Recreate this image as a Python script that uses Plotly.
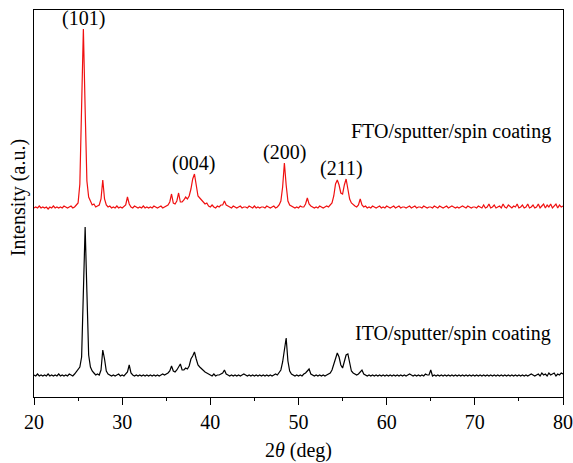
import plotly.graph_objects as go

# 2-theta scan grid (deg), step 0.2 from 20 to 80
two_theta = [round(20 + 0.2 * i, 1) for i in range(301)]

# FTO/sputter/spin coating (relative intensity, a.u.), groups of 1 deg
fto = [
    21, 22, 21, 23, 21,   22, 21, 22, 20, 22,   21, 23, 21, 22, 21,   22, 21, 23, 22, 21,
    22, 23, 21, 22, 24,   26, 45, 115, 200, 120,  48, 32, 27, 24, 25,  22, 23, 24, 30, 49,
    30, 24, 22, 23, 21,   22, 21, 23, 21, 22,   21, 23, 24, 32, 25,   22, 21, 23, 22, 21,
    22, 21, 23, 21, 22,   21, 22, 21, 23, 22,   21, 22, 23, 21, 22,   23, 24, 27, 35, 26,
    25, 28, 36, 27, 27,   29, 32, 30, 33, 40,   50, 55, 42, 33, 31,   29, 27, 25, 26, 23,
    22, 24, 22, 21, 23,   22, 24, 24, 28, 24,   23, 22, 21, 23, 22,   21, 22, 23, 21, 22,
    22, 21, 23, 22, 21,   23, 21, 22, 21, 22,   22, 21, 23, 22, 21,   22, 23, 21, 22, 24,
    28, 42, 66, 44, 28,   24, 23, 22, 21, 22,   21, 23, 22, 22, 25,   31, 25, 23, 22, 21,
    22, 21, 23, 22, 21,   22, 23, 22, 24, 26,   33, 45, 49, 44, 36,   35, 44, 50, 40, 30,
    26, 24, 23, 22, 24,   30, 24, 22, 23, 21,   22, 21, 23, 22, 21,   22, 23, 21, 22, 21,
    23, 22, 21, 22, 23,   21, 22, 23, 21, 22,   22, 21, 22, 23, 21,   22, 23, 21, 22, 22,
    21, 23, 22, 21, 22,   22, 21, 23, 22, 21,   23, 22, 21, 22, 23,   21, 22, 23, 22, 21,
    22, 21, 22, 23, 22,   21, 23, 22, 21, 22,   22, 21, 23, 22, 21,   24, 21, 22, 25, 21,
    22, 24, 21, 22, 23,   21, 25, 22, 21, 24,   22, 21, 23, 22, 25,   21, 22, 24, 21, 22,
    25, 21, 22, 24, 21,   22, 25, 21, 23, 25,   21, 24, 22, 25, 21,   23, 25, 21, 24, 22,
    23,
]

# ITO/sputter/spin coating (relative intensity, a.u.)
ito = [
    22, 21, 23, 21, 22,   21, 22, 21, 23, 21,   22, 21, 22, 21, 23,   21, 22, 21, 22, 21,
    23, 22, 21, 23, 25,   27, 30, 40, 110, 170,  105, 42, 30, 26, 24,  22, 23, 22, 27, 47,
    38, 26, 23, 22, 21,   22, 21, 22, 23, 21,   22, 21, 23, 25, 32,   24, 22, 21, 22, 21,
    22, 21, 22, 21, 22,   21, 22, 21, 22, 21,   22, 21, 22, 23, 22,   23, 24, 26, 31, 26,
    25, 27, 30, 33, 27,   27, 29, 28, 31, 38,   41, 45, 38, 32, 30,   28, 26, 25, 24, 23,
    22, 21, 23, 21, 22,   22, 23, 24, 27, 23,   22, 21, 22, 21, 22,   21, 22, 21, 22, 23,
    22, 21, 22, 21, 22,   21, 22, 21, 22, 21,   22, 21, 22, 21, 22,   21, 22, 23, 22, 24,
    27, 35, 50, 59, 36,   26, 23, 22, 21, 22,   21, 22, 21, 23, 24,   26, 28, 23, 22, 21,
    22, 21, 22, 21, 22,   21, 22, 23, 24, 27,   33, 40, 44, 40, 32,   29, 36, 42, 43, 33,
    26, 24, 23, 22, 23,   25, 27, 23, 22, 21,   22, 21, 22, 21, 22,   21, 22, 21, 22, 21,
    22, 21, 22, 21, 22,   21, 22, 21, 22, 21,   22, 21, 22, 23, 22,   21, 22, 21, 22, 21,
    22, 21, 23, 22, 22,   27, 21, 22, 21, 22,   21, 22, 21, 22, 21,   22, 21, 22, 21, 22,
    21, 22, 21, 22, 21,   22, 21, 22, 21, 22,   21, 22, 21, 22, 21,   22, 21, 22, 21, 22,
    21, 22, 21, 22, 21,   22, 21, 22, 21, 22,   21, 22, 21, 22, 21,   22, 21, 22, 21, 22,
    21, 22, 23, 22, 21,   22, 23, 21, 24, 22,   23, 21, 24, 22, 23,   24, 21, 23, 22, 24,
    23,
]

fto_offset = 168  # vertical stacking offset of the upper pattern

peak_labels = ["(101)", "(004)", "(200)", "(211)"]
peak_pos = [25.6, 38.1, 48.4, 54.9]

sample_labels = ["FTO/sputter/spin coating", "ITO/sputter/spin coating"]

FONT = "Liberation Serif"
TXT = 20

fto_plot = [v + fto_offset for v in fto]

fig = go.Figure()
fig.add_trace(go.Scatter(x=two_theta, y=ito, mode="lines",
                         line=dict(color="#000000", width=1.2), showlegend=False))
fig.add_trace(go.Scatter(x=two_theta, y=fto_plot, mode="lines",
                         line=dict(color="#f01010", width=1.2), showlegend=False))

annotations = []
for lab, pos in zip(peak_labels, peak_pos):
    top = max(v for t, v in zip(two_theta, fto_plot) if abs(t - pos) <= 0.6)
    annotations.append(dict(x=pos, y=top, xref="x", yref="y", text=lab,
                            showarrow=False, yanchor="middle", yshift=11,
                            font=dict(family=FONT, size=TXT, color="black")))

annotations.append(dict(x=78.9, y=fto_offset + 98, xref="x", yref="y",
                        text=sample_labels[0], showarrow=False,
                        xanchor="right", yanchor="middle",
                        font=dict(family=FONT, size=TXT, color="black")))
annotations.append(dict(x=78.9, y=64, xref="x", yref="y",
                        text=sample_labels[1], showarrow=False,
                        xanchor="right", yanchor="middle",
                        font=dict(family=FONT, size=TXT, color="black")))
annotations.append(dict(x=-0.030, y=(397 - 198) / 387, xref="paper", yref="paper",
                        text="Intensity (a.u.)", textangle=-90, showarrow=False,
                        xanchor="center", yanchor="middle",
                        font=dict(family=FONT, size=TXT, color="black")))

fig.update_layout(
    width=573, height=463,
    margin=dict(l=34, r=10, t=10, b=66, autoexpand=False),
    paper_bgcolor="white", plot_bgcolor="white",
    font=dict(family=FONT, size=TXT, color="black"),
    annotations=annotations,
    xaxis=dict(range=[20, 80], tickmode="linear", tick0=20, dtick=10,
               ticks="outside", ticklen=7, tickwidth=1.2, tickcolor="black",
               minor=dict(dtick=5, ticks="outside", ticklen=3, tickwidth=1.2,
                          tickcolor="black"),
               showline=True, linecolor="black", linewidth=1.3, mirror=True,
               showgrid=False, zeroline=False, automargin=False,
               tickfont=dict(family=FONT, size=20),
               title=dict(text="2<i>θ</i> (deg)", font=dict(family=FONT, size=TXT),
                          standoff=10)),
    yaxis=dict(range=[0, 387], showticklabels=False, ticks="",
               showline=True, linecolor="black", linewidth=1.3, mirror=True,
               showgrid=False, zeroline=False, automargin=False),
)

fig.write_html("out.html")
